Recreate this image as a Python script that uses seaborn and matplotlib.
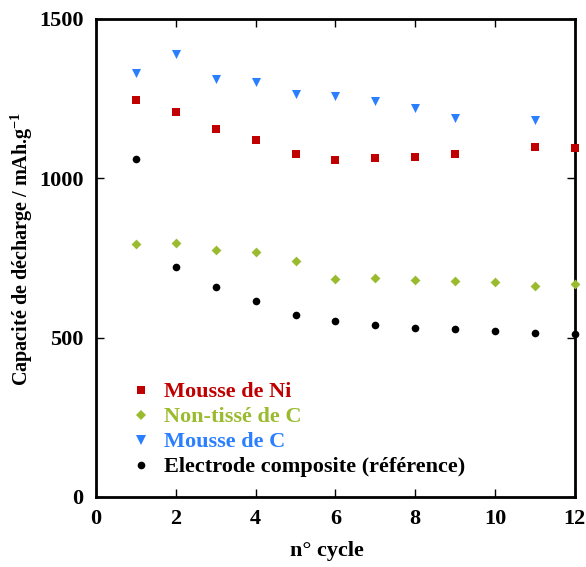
import numpy as np
import pandas as pd
import matplotlib
matplotlib.use("Agg")
import matplotlib.pyplot as plt
import seaborn as sns
from matplotlib.lines import Line2D

# donnees
cycles_ni = [1, 2, 3, 4, 5, 6, 7, 8, 9, 11, 12]
mousse_ni = [1247, 1207, 1155, 1119, 1075, 1058, 1063, 1068, 1075, 1099, 1096]

cycles_nt = [1, 2, 3, 4, 5, 6, 7, 8, 9, 10, 11, 12]
non_tisse_c = [793, 796, 774, 770, 740, 684, 688, 681, 677, 676, 663, 668]

cycles_mc = [1, 2, 3, 4, 5, 6, 7, 8, 9, 11]
mousse_c = [1330, 1389, 1313, 1301, 1265, 1259, 1243, 1221, 1188, 1183]

cycles_ref = [1, 2, 3, 4, 5, 6, 7, 8, 9, 10, 11, 12]
electrode_ref = [1061, 723, 660, 615, 570, 551, 541, 531, 527, 522, 514, 510]

labels = ["Mousse de Ni", "Non-tissé de C", "Mousse de C",
          "Electrode composite (référence)"]
colors = ["#C00000", "#9BBB2F", "#2A7FFF", "#000000"]
markers = ["s", "D", "v", "o"]
sizes = [6, 5, 6.5, 5.5]

series = [
    (cycles_ni, mousse_ni),
    (cycles_nt, non_tisse_c),
    (cycles_mc, mousse_c),
    (cycles_ref, electrode_ref),
]

sns.set_style("ticks")
plt.rcParams["font.family"] = ["Liberation Serif", "DejaVu Serif"]
plt.rcParams["font.weight"] = "bold"
plt.rcParams["text.color"] = "black"
plt.rcParams["axes.labelcolor"] = "black"
plt.rcParams["xtick.color"] = "black"
plt.rcParams["ytick.color"] = "black"
plt.rcParams["axes.edgecolor"] = "black"
plt.rcParams["mathtext.fontset"] = "custom"
plt.rcParams["mathtext.bf"] = "Liberation Serif:bold"
plt.rcParams["mathtext.rm"] = "Liberation Serif:bold"
plt.rcParams["mathtext.default"] = "bf"

fig = plt.figure(figsize=(5.86, 5.67), dpi=100)
ax = fig.add_axes([0.164, 0.1235, 0.817, 0.843])

for (x, y), lab, col, mk, ms in zip(series, labels, colors, markers, sizes):
    df = pd.DataFrame({"cycle": x, "capacite": y})
    sns.scatterplot(data=df, x="cycle", y="capacite", ax=ax, marker=mk,
                    color=col, s=ms ** 2, linewidth=0, clip_on=False,
                    legend=False, zorder=3)

ax.set_xlim(0, 12)
ax.set_ylim(0, 1500)
ax.set_xticks(np.arange(0, 13, 2))
ax.set_yticks([0, 500, 1000, 1500])
ax.tick_params(direction="in", length=6, width=1, top=True, right=True,
               labelsize=16)
ax.tick_params(axis="x", pad=9)
ax.tick_params(axis="y", pad=9)
for lab in ax.get_xticklabels() + ax.get_yticklabels():
    lab.set_fontweight("bold")
for sp in ax.spines.values():
    sp.set_linewidth(2)

ax.set_xlabel("n° cycle", fontsize=16, fontweight="bold", labelpad=8)
ax.set_ylabel("Capacité de décharge / mAh.g$^{-1}$", fontsize=14.5,
              fontweight="bold", labelpad=3)
ax.xaxis.label.set_x(0.483)
ax.yaxis.label.set_y(0.52)

handles = [Line2D([], [], linestyle="none", marker=mk, color=col,
                  markersize=ms, markeredgewidth=0)
           for col, mk, ms in zip(colors, markers, sizes)]
leg = ax.legend(handles, labels, loc="upper left",
                bbox_to_anchor=(0.06, 0.264), frameon=False,
                prop={"weight": "bold", "size": 16}, handlelength=0.5,
                handletextpad=0.75, labelspacing=0.2, borderpad=0)
for txt, col in zip(leg.get_texts(), colors):
    txt.set_color(col)

fig.savefig("out.png", dpi=100)
